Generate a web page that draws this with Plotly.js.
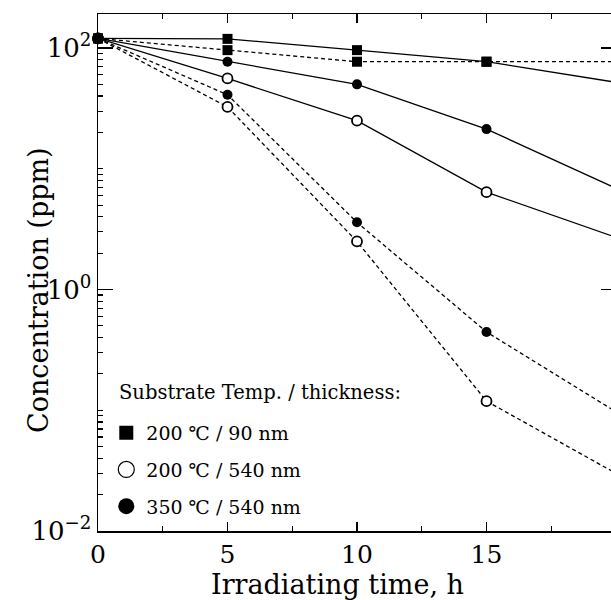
<!DOCTYPE html>
<html>
<head>
<meta charset="utf-8">
<script src="https://cdn.plot.ly/plotly-3.0.1.min.js"></script>
<style>
  html, body { margin: 0; padding: 0; overflow: hidden; background: #fff; }
  #chart { width: 640px; height: 600px; }
</style>
</head>
<body>
<div id="chart"></div>
<script>
// ---- data ----
const time = [0, 5, 10, 15, 20];
const sq90Solid    = [120, 119, 96, 77, 52];
const sq90Dashed   = [120, 96, 77, 77, 77];
const open540Solid  = [120, 56, 25, 6.4, 2.7];
const open540Dashed = [120, 32.5, 2.5, 0.119, 0.030];
const fill540Solid  = [120, 77, 50, 21.3, 6.9];
const fill540Dashed = [120, 41, 3.6, 0.445, 0.097];

const legendTitle = 'Substrate Temp. / thickness:';
const legendLabels = ['200 \u2103 / 90 nm', '200 \u2103 / 540 nm', '350 \u2103 / 540 nm'];
const xTickVals = [0, 5, 10, 15];
const yTickVals = [0.01, 1, 100];
const yTickText = ['10<sup>\u22122</sup>', '10<sup>0</sup>', '10<sup>2</sup>'];

const FONT = 'DejaVu Serif, Liberation Serif, serif';

// markers only at points inside the visible range (last point lies at the cropped edge)
function sizes(sz) { return time.map(t => (t < 20 ? sz : 0)); }

function series(y, dash, symbol, fill, sz) {
  return {
    x: time, y: y, type: 'scatter', mode: 'lines+markers',
    showlegend: false, cliponaxis: false,
    line: { color: '#000', width: 1.3, dash: dash },
    marker: {
      symbol: symbol, size: sizes(sz), color: fill, opacity: 1,
      line: { color: '#000', width: fill === '#fff' ? 1.8 : 0 }
    }
  };
}

const dashPat = '4px,3px';
const traces = [
  series(open540Dashed, dashPat, 'circle', '#fff', 10),
  series(fill540Dashed, dashPat, 'circle', '#000', 10),
  series(open540Solid, 'solid', 'circle', '#fff', 10),
  series(fill540Solid, 'solid', 'circle', '#000', 10),
  series(sq90Dashed, dashPat, 'square', '#000', 10),
  series(sq90Solid, 'solid', 'square', '#000', 10)
];

// legend-only entries (markers only, as in the reference key)
const legSyms = [
  { symbol: 'square', color: '#000', lw: 0, size: 14 },
  { symbol: 'circle', color: '#fff', lw: 1.2, size: 16 },
  { symbol: 'circle', color: '#000', lw: 0, size: 16 }
];
legendLabels.forEach((lab, i) => {
  traces.push({
    x: [null], y: [null], type: 'scatter', mode: 'markers',
    name: lab, legendgroup: 'g' + i, showlegend: true,
    marker: { symbol: legSyms[i].symbol, size: legSyms[i].size, color: legSyms[i].color, opacity: 1,
              line: { color: '#000', width: legSyms[i].lw } }
  });
});

// minor log ticks
const yMinor = [];
for (let k = -2; k <= 2; k++) {
  for (let m = 1; m <= 9; m++) {
    const v = m * Math.pow(10, k);
    if (m === 1 && (k === -2 || k === 0 || k === 2)) continue;
    yMinor.push(v);
  }
}

const layout = {
  width: 640, height: 600,
  margin: { l: 98, r: 24, t: 14, b: 69 },
  paper_bgcolor: '#fff', plot_bgcolor: '#fff',
  font: { family: FONT, color: '#000' },
  showlegend: true,
  xaxis: {
    range: [0, 20],
    showline: true, linecolor: '#000', linewidth: 1.5, mirror: 'allticks',
    showgrid: false, zeroline: false,
    ticks: 'inside', ticklen: 9, tickwidth: 1.3, tickcolor: '#000',
    tickmode: 'array', tickvals: xTickVals, ticktext: xTickVals.map(String),
    tickfont: { family: FONT, size: 25, color: '#000' },
    minor: { ticks: 'inside', ticklen: 5, tickwidth: 1.2, tickcolor: '#000', dtick: 2.5, tick0: 0, showgrid: false }
  },
  yaxis: {
    type: 'log', range: [-2, 2.2816],
    showline: true, linecolor: '#000', linewidth: 1.5, mirror: 'allticks',
    showgrid: false, zeroline: false,
    ticks: 'inside', ticklen: 15, tickwidth: 1.3, tickcolor: '#000',
    tickmode: 'array', tickvals: yTickVals, ticktext: yTickText,
    tickfont: { family: FONT, size: 26, color: '#000' },
    minor: { ticks: 'inside', ticklen: 5, tickwidth: 1.2, tickcolor: '#000', tickvals: yMinor, showgrid: false }
  },
  legend: {
    x: 0.016, y: 0.2265, xanchor: 'left', yanchor: 'top',
    bgcolor: 'rgba(0,0,0,0)', borderwidth: 0,
    font: { family: FONT, size: 19, color: '#000' },
    tracegroupgap: 9, itemsizing: 'trace'
  },
  annotations: [
    { text: legendTitle, xref: 'paper', yref: 'paper', x: 0.0367, y: 0.267,
      xanchor: 'left', yanchor: 'middle', showarrow: false,
      font: { family: FONT, size: 19.5, color: '#000' } },
    { text: 'Irradiating time, h', xref: 'paper', yref: 'paper', x: 0.463, y: -0.104,
      xanchor: 'center', yanchor: 'middle', showarrow: false,
      font: { family: FONT, size: 27, color: '#000' } },
    { text: 'Concentration (ppm)', xref: 'paper', yref: 'paper', x: -0.116, y: 0.466,
      xanchor: 'center', yanchor: 'middle', textangle: -90, showarrow: false,
      font: { family: FONT, size: 27, color: '#000' } }
  ]
};

Plotly.newPlot('chart', traces, layout, { displayModeBar: false, staticPlot: true });
</script>
</body>
</html>
